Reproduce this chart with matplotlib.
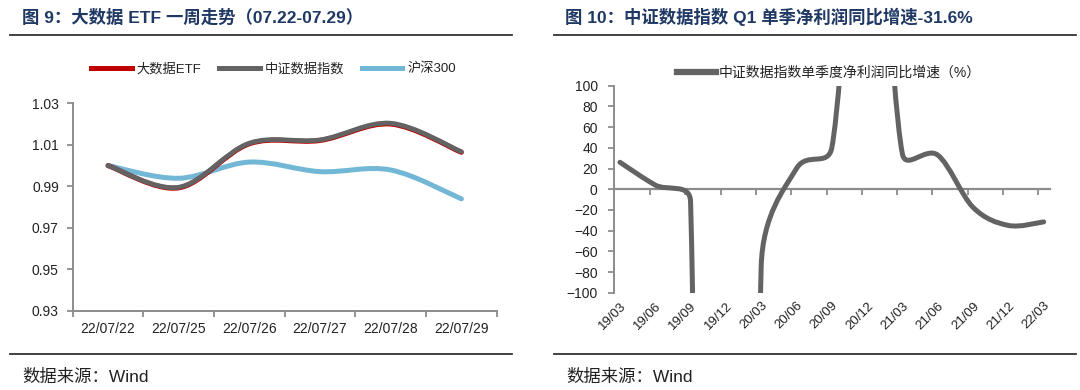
import numpy as np
import matplotlib
matplotlib.use('Agg')
import matplotlib.pyplot as plt
from matplotlib.path import Path
from matplotlib.patches import PathPatch
from matplotlib.lines import Line2D

plt.rcParams['font.family'] = ['Liberation Sans', 'Noto Sans CJK SC']

# ---------------- data ----------------
dates = ['22/07/22', '22/07/25', '22/07/26', '22/07/27', '22/07/28', '22/07/29']
etf = [1.0000, 0.9893, 1.0105, 1.0121, 1.0200, 1.0064]
csi_data = [1.0000, 0.9896, 1.0108, 1.0124, 1.0204, 1.0067]
hs300 = [1.0000, 0.9939, 1.0017, 0.9971, 0.9979, 0.9840]

quarters = ['19/03', '19/06', '19/09', '19/12', '20/03', '20/06', '20/09',
            '20/12', '21/03', '21/06', '21/09', '21/12', '22/03']
growth = [26, 4, -12, -2500, -75, 20, 40, 380, 34, 33, -17.5, -35, -31.6]

title_left = '图 9：大数据 ETF 一周走势（07.22-07.29）'
title_right = '图 10：中证数据指数 Q1 单季净利润同比增速-31.6%'
source = '数据来源：Wind'
legend_right = '中证数据指数单季度净利润同比增速（%）'

C_RED = '#C00000'
C_GRAY = '#636363'
C_BLUE = '#72B7D5'
C_TITLE = '#1F3864'
C_AXIS = '#8C8C8C'
C_TEXT = '#222222'

W, H = 1080, 390
fig = plt.figure(figsize=(W / 100, H / 100), dpi=100)


def smooth_path(ax, xs, ys):
    """Excel-like smoothed line (Catmull-Rom Bezier, control arms clamped
    to half the segment length), computed in display space."""
    pts = ax.transData.transform(np.column_stack([xs, ys]))
    n = len(pts)
    verts = [pts[0]]
    codes = [Path.MOVETO]
    for i in range(n - 1):
        p0 = pts[max(i - 1, 0)]
        p1, p2 = pts[i], pts[i + 1]
        p3 = pts[min(i + 2, n - 1)]
        d12 = np.hypot(*(p2 - p1))
        d02 = np.hypot(*(p2 - p0))
        d13 = np.hypot(*(p3 - p1))
        f0 = 1 / 6 if d02 / 6 < d12 / 2 else (d12 / 2) / d02
        f1 = 1 / 6 if d13 / 6 < d12 / 2 else (d12 / 2) / d13
        c1 = p1 + (p2 - p0) * f0
        c2 = p2 - (p3 - p1) * f1
        verts += [c1, c2, p2]
        codes += [Path.CURVE4] * 3
    verts = ax.transData.inverted().transform(np.array(verts))
    return Path(verts, codes)


def px(x0, y0, x1, y1):
    return [x0 / W, 1 - y1 / H, (x1 - x0) / W, (y1 - y0) / H]

# ---------------- left chart ----------------
ax1 = fig.add_axes(px(72.7, 103.3, 496.7, 311))
ax1.set_xlim(-0.5, len(dates) - 0.5)
ax1.set_ylim(0.93, 1.03)
yt = [0.93, 0.95, 0.97, 0.99, 1.01, 1.03]
ax1.set_yticks(yt)
ax1.set_yticklabels(['%.2f' % v for v in yt])
ax1.set_xticks(range(len(dates)))
ax1.set_xticklabels(dates)
ax1.set_xticks(np.arange(-0.5, len(dates), 1.0), minor=True)
ax1.tick_params(axis='x', which='major', length=0, pad=8, labelsize=10, colors=C_TEXT)
ax1.tick_params(axis='x', which='minor', length=4, width=1.3, color=C_AXIS, direction='out')
ax1.tick_params(axis='y', length=4, width=1.3, color=C_AXIS, pad=6, labelsize=10, labelcolor=C_TEXT)
for s in ['top', 'right']:
    ax1.spines[s].set_visible(False)
for s in ['left', 'bottom']:
    ax1.spines[s].set_color(C_AXIS)
    ax1.spines[s].set_linewidth(1.4)

x1 = np.arange(len(dates))
for ys, col, lw, z in [(hs300, C_BLUE, 3.6, 2), (etf, C_RED, 3.6, 3), (csi_data, C_GRAY, 3.4, 4)]:
    ax1.add_patch(PathPatch(smooth_path(ax1, x1, ys), fill=False, edgecolor=col,
                            lw=lw, capstyle='round', joinstyle='round', zorder=z))

handles = [Line2D([], [], color=C_RED, lw=3.6),
           Line2D([], [], color=C_GRAY, lw=3.6),
           Line2D([], [], color=C_BLUE, lw=3.6)]
fig.legend(handles, ['大数据ETF', '中证数据指数', '沪深300'], loc='center left',
           bbox_to_anchor=(84 / W, 1 - 69 / H), ncol=3, frameon=False, fontsize=9.5,
           handlelength=3.1, handletextpad=0.4, columnspacing=1.3, borderpad=0,
           labelcolor=C_TEXT)

# ---------------- right chart ----------------
ax2 = fig.add_axes(px(614.3, 85.7, 1050, 292.7))
x2 = np.arange(len(quarters))
ax2.set_xlim(-0.16, 12.18)
ax2.set_ylim(-100, 100)
ax2.set_yticks(np.arange(-100, 101, 20))
ax2.tick_params(axis='y', length=4, width=1.3, color=C_AXIS, pad=8, labelsize=10, labelcolor=C_TEXT)
ax2.spines['bottom'].set_position(('data', 0))
ax2.spines['bottom'].set_color(C_AXIS)
ax2.spines['bottom'].set_linewidth(1.6)
ax2.spines['left'].set_color(C_AXIS)
ax2.spines['left'].set_linewidth(1.4)
for s in ['top', 'right']:
    ax2.spines[s].set_visible(False)
ax2.set_xticks(x2)
ax2.set_xticklabels([])
ax2.set_xticks(np.arange(12) + 0.85, minor=True)
ax2.tick_params(axis='x', which='major', length=0)
ax2.tick_params(axis='x', which='minor', length=4, width=1.3, color=C_AXIS, direction='out')

sec = ax2.secondary_xaxis(0)
sec.set_xticks(x2)
sec.set_xticklabels(quarters, rotation=45, ha='right', va='top', rotation_mode='anchor')
sec.tick_params(length=0, pad=5, labelsize=9.5, labelcolor=C_TEXT)
sec.spines['bottom'].set_visible(False)

ax2.add_patch(PathPatch(smooth_path(ax2, x2, growth), fill=False, edgecolor=C_GRAY,
                        lw=3.6, capstyle='round', joinstyle='round', zorder=3))
fig.legend([Line2D([], [], color=C_GRAY, lw=4.5)], [legend_right], loc='center left',
           bbox_to_anchor=(670 / W, 1 - 73 / H), frameon=False, fontsize=10,
           handlelength=2.8, handletextpad=0.2, borderpad=0, labelcolor=C_TEXT)

# ---------------- titles, rules, source ----------------
fig.text(22 / W, 1 - 17 / H, title_left, fontsize=12.5, fontweight='bold', color=C_TITLE,
         ha='left', va='center')
fig.text(565 / W, 1 - 17 / H, title_right, fontsize=12.5, fontweight='bold', color=C_TITLE,
         ha='left', va='center')
for (xa, xb) in [(10, 512), (554, 1076)]:
    fig.add_artist(Line2D([xa / W, xb / W], [1 - 35 / H, 1 - 35 / H], color='#333333', lw=1.3))
    fig.add_artist(Line2D([xa / W, xb / W], [1 - 354 / H, 1 - 354 / H], color='#333333', lw=1.3))
fig.text(22 / W, 1 - 377 / H, source, fontsize=12.5, color=C_TEXT, ha='left', va='center')
fig.text(566 / W, 1 - 377 / H, source, fontsize=12.5, color=C_TEXT, ha='left', va='center')

fig.savefig('out.png', dpi=100)
